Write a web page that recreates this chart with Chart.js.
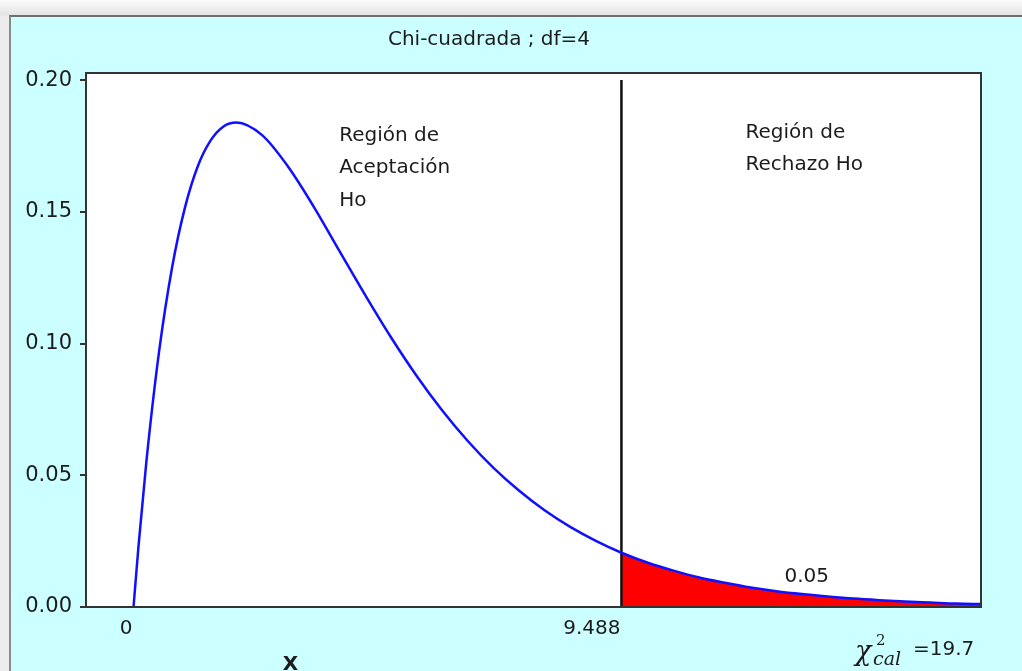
<!DOCTYPE html>
<html>
<head>
<meta charset="utf-8">
<script src="https://cdn.jsdelivr.net/npm/chart.js@4"></script>
<style>
  html, body { margin: 0; padding: 0; width: 1022px; height: 671px; overflow: hidden; }
  body { background: linear-gradient(#fbfbfb 0px, #e4e4e4 15px, #ececec 16px); position: relative; }
  #frame { position: absolute; left: 9px; top: 15px; width: 1011px; height: 654px;
           background: #ccffff; border-top: 2px solid #6e6e6e; border-left: 2px solid #8a8a8a; }
  #wrap { position: absolute; left: 0; top: 0; width: 1022px; height: 671px; }
</style>
</head>
<body>
<div id="frame"></div>
<div id="wrap"><canvas id="c" width="1022" height="671"></canvas></div>
<script>
// ---- data ----
const titleText = "Chi-cuadrada ; df=4";
const xValues = [0, 0.1, 0.25, 0.5, 0.75, 1, 1.25, 1.5, 1.75, 2, 2.5, 3, 3.5, 4, 4.5, 5, 5.5, 6, 6.5, 7, 7.5, 8, 8.5, 9, 9.488, 10, 10.5, 11, 11.5, 12, 12.5, 13, 13.5, 14, 14.5, 15, 15.5, 16, 16.48];
const density = [0, 0.0238, 0.0552, 0.0974, 0.1289, 0.1516, 0.1673, 0.1771, 0.1824, 0.1839, 0.1791, 0.1673, 0.1521, 0.1353, 0.1186, 0.1026, 0.0879, 0.0747, 0.0630, 0.0528, 0.0441, 0.0366, 0.0303, 0.0250, 0.0206, 0.0168, 0.0138, 0.0112, 0.0092, 0.0074, 0.0060, 0.0049, 0.0040, 0.0032, 0.0026, 0.0021, 0.0017, 0.0013, 0.0011];
const criticalValue = 9.488;
const criticalLineTop = 0.20;
const alphaLabel = "0.05";
const chiCalLabel = "=19.7";
const yTicks = [0, 0.05, 0.10, 0.15, 0.20];
const xTicks = [0, 9.488];
const xTickLabels = ["0", "9.488"];
const acceptText = ["Región de", "Aceptación", "Ho"];
const rejectText = ["Región de", "Rechazo Ho"];
const xAxisTitle = "X";

// ---- derived datasets ----
const curve = xValues.map((x, i) => ({ x: x, y: density[i] }));
const rejection = curve.filter(p => p.x >= criticalValue);
const critLine = [{ x: criticalValue, y: 0 }, { x: criticalValue, y: criticalLineTop }];

const FONT = "'DejaVu Sans', Verdana, sans-serif";
const TEXT = '#1c1c1c';

const bgPlugin = {
  id: 'plotBg',
  beforeDraw(chart) {
    const { ctx, chartArea: a } = chart;
    ctx.save();
    ctx.fillStyle = '#ffffff';
    ctx.fillRect(a.left, a.top, a.right - a.left, a.bottom - a.top);
    ctx.restore();
  },
  afterDatasetsDraw(chart) {
    const { ctx, chartArea: a } = chart;
    ctx.save();
    ctx.strokeStyle = '#333333';
    ctx.lineWidth = 2;
    ctx.strokeRect(a.left, a.top, a.right - a.left, a.bottom - a.top);
    ctx.restore();
  }
};

const textPlugin = {
  id: 'texts',
  afterDraw(chart) {
    const { ctx, chartArea: a } = chart;
    const xs = chart.scales.x, ys = chart.scales.y;
    ctx.save();
    ctx.fillStyle = TEXT;
    ctx.textBaseline = 'middle';
    // title
    ctx.font = '20px ' + FONT;
    ctx.textAlign = 'center';
    ctx.fillText(titleText, 489, 40);
    // acceptance region
    ctx.textAlign = 'left';
    let px = xs.getPixelForValue(4.0), py = ys.getPixelForValue(0.179);
    acceptText.forEach((t, i) => ctx.fillText(t, px, py + i * 32.5));
    // rejection region
    px = xs.getPixelForValue(11.9); py = ys.getPixelForValue(0.1799);
    rejectText.forEach((t, i) => ctx.fillText(t, px, py + i * 32));
    // alpha
    ctx.textAlign = 'center';
    ctx.fillText(alphaLabel, xs.getPixelForValue(13.09), ys.getPixelForValue(0.0114));
    // X axis title
    ctx.font = 'bold 20px ' + FONT;
    ctx.fillText(xAxisTitle, xs.getPixelForValue(3.05), a.bottom + 58);
    // chi-square calc
    const bx = xs.getPixelForValue(14.03), by = a.bottom + 44;
    ctx.textAlign = 'left';
    ctx.font = 'italic 27px "DejaVu Serif", serif';
    ctx.fillText('χ', bx, by + 2);
    ctx.font = '15px "DejaVu Serif", serif';
    ctx.fillText('2', bx + 21, by - 10);
    ctx.font = 'italic 19px "DejaVu Serif", serif';
    ctx.fillText('cal', bx + 18, by + 9);
    ctx.font = '20px ' + FONT;
    ctx.fillText(chiCalLabel, bx + 58, by - 1);
    ctx.restore();
  }
};

new Chart(document.getElementById('c'), {
  type: 'line',
  data: {
    datasets: [
      { label: 'pdf', data: curve, borderColor: '#1010ff', borderWidth: 2.5, pointRadius: 0,
        cubicInterpolationMode: 'monotone', fill: false, order: 0 },
      { label: 'critical', data: critLine, borderColor: '#111111', borderWidth: 2.5, pointRadius: 0,
        fill: false, order: 1 },
      { label: 'rejection', data: rejection, borderColor: 'rgba(0,0,0,0)', borderWidth: 0, pointRadius: 0,
        cubicInterpolationMode: 'monotone', backgroundColor: '#ff0000', fill: 'origin', order: 2 }
    ]
  },
  options: {
    responsive: false,
    animation: false,
    events: [],
    layout: { padding: { top: 73, right: 41, bottom: 0, left: 0 } },
    plugins: { legend: { display: false }, title: { display: false }, tooltip: { enabled: false } },
    scales: {
      x: {
        type: 'linear', min: -0.924, max: 16.48,
        afterBuildTicks(scale) { scale.ticks = xTicks.map(v => ({ value: v })); },
        afterFit(scale) { scale.height = 64; },
        grid: { display: false, drawTicks: false },
        border: { display: false },
        ticks: {
          padding: 10, align: 'end', labelOffset: -1, color: TEXT,
          font: { family: FONT, size: 20 },
          callback(value) { const i = xTicks.indexOf(value); return i >= 0 ? xTickLabels[i] : ''; }
        }
      },
      y: {
        type: 'linear', min: 0, max: 0.2027,
        afterBuildTicks(scale) { scale.ticks = yTicks.map(v => ({ value: v })); },
        afterFit(scale) { scale.width = 86; },
        grid: { drawOnChartArea: false, drawTicks: true, tickLength: 6, color: '#333333', lineWidth: 2 },
        border: { display: false },
        ticks: {
          padding: 8, color: TEXT,
          font: { family: FONT, size: 21 },
          callback(value) { return Number(value).toFixed(2); }
        }
      }
    }
  },
  plugins: [bgPlugin, textPlugin]
});
</script>
</body>
</html>
